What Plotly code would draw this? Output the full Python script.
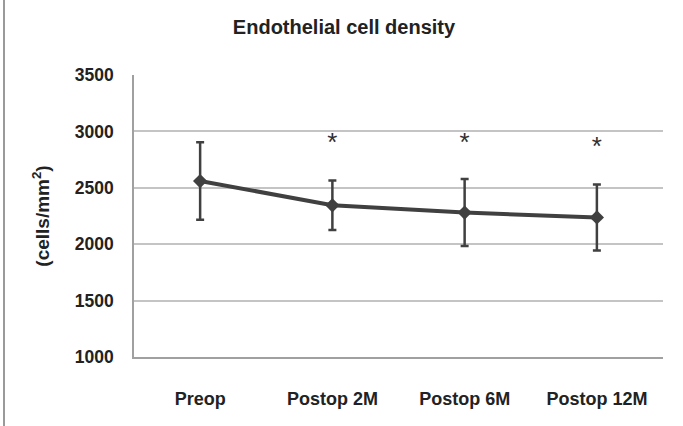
import plotly.graph_objects as go

categories = ["Preop", "Postop 2M", "Postop 6M", "Postop 12M"]
mean_ecd = [2560, 2345, 2280, 2237]
sd_ecd = [343, 219, 297, 292]
sig_categories = ["Postop 2M", "Postop 6M", "Postop 12M"]
sig_y = [2880, 2880, 2850]
y_ticks = [1000, 1500, 2000, 2500, 3000, 3500]

W, H = 683, 426
ML, MR, MT, MB = 134, 20, 75, 69
pw = W - ML - MR

dark = "#404040"
font = "Liberation Sans, Arial, sans-serif"

fig = go.Figure()
fig.add_trace(go.Scatter(
    x=categories, y=mean_ecd, mode="lines+markers",
    line=dict(color=dark, width=4),
    marker=dict(symbol="diamond", size=11, color=dark),
    error_y=dict(type="data", array=sd_ecd, visible=True, color=dark, thickness=2.5, width=4),
    showlegend=False, hoverinfo="skip",
))
fig.add_trace(go.Scatter(
    x=sig_categories, y=sig_y, mode="text", text=["*"] * len(sig_categories),
    textposition="middle center",
    textfont=dict(family=font, size=26, color="#303030"),
    showlegend=False, hoverinfo="skip",
))

fig.update_layout(
    width=W, height=H,
    margin=dict(l=ML, r=MR, t=MT, b=MB),
    paper_bgcolor="white", plot_bgcolor="white",
    title=dict(text="<b>Endothelial cell density</b>", x=(344 - ML) / pw, xref="paper",
               xanchor="center", y=1 - 27 / H, yref="container", yanchor="middle",
               font=dict(family=font, size=20, color="#222222")),
    xaxis=dict(
        type="category", categoryorder="array", categoryarray=categories,
        range=[-0.5, 3.5], showgrid=False, zeroline=False,
        showline=True, linecolor="#a0a0a0", linewidth=1.5,
        ticks="", ticklabelstandoff=25,
        tickfont=dict(family=font, size=18, color="#222222"),
        tickprefix="<b>", ticksuffix="</b>",
    ),
    yaxis=dict(
        range=[1000, 3500], tickvals=y_ticks, ticktext=[f"<b>{v}</b>" for v in y_ticks],
        showgrid=True, gridcolor="#c4c4c4", gridwidth=1.5, zeroline=False,
        showline=True, linecolor="#a0a0a0", linewidth=1.5,
        ticks="", ticklabelstandoff=15,
        tickfont=dict(family=font, size=17.5, color="#222222"),
        title=dict(text="<b>(cells/mm<sup>2</sup>)</b>", standoff=20,
                   font=dict(family=font, size=19, color="#222222")),
    ),
    shapes=[dict(type="line", xref="paper", yref="paper",
                 x0=(4 - ML) / pw, x1=(4 - ML) / pw, y0=-MB / (H - MT - MB) - 0.1,
                 y1=1 + MT / (H - MT - MB) + 0.1,
                 line=dict(color="#9a9a9a", width=2))],
)

fig.write_html("out.html")
